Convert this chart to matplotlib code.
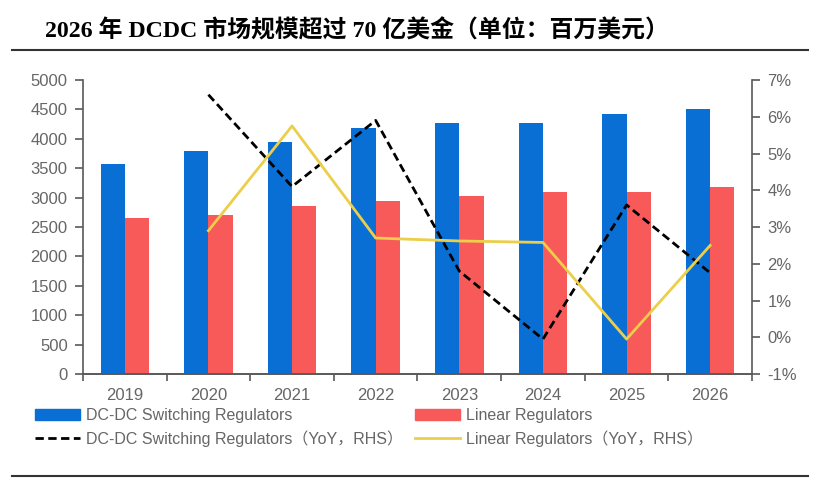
import matplotlib
matplotlib.use("Agg")
import matplotlib.pyplot as plt
import numpy as np
from matplotlib.lines import Line2D
from matplotlib.patches import Patch

plt.rcParams['font.family'] = ['Liberation Sans', 'Noto Sans CJK SC']

years = ['2019', '2020', '2021', '2022', '2023', '2024', '2025', '2026']
dcdc = [3570, 3800, 3950, 4190, 4270, 4270, 4420, 4500]
linear = [2650, 2710, 2860, 2940, 3030, 3090, 3090, 3180]
# YoY 从 2020 开始
dcdc_yoy = [6.6, 4.1, 5.9, 1.8, -0.05, 3.6, 1.75]
linear_yoy = [2.9, 5.75, 2.7, 2.62, 2.58, -0.05, 2.5]

blue = '#0a6fd4'
red = '#f85a5a'
yellow = '#ecce4a'
grey = '#595959'

fig = plt.figure(figsize=(8.33, 4.92), dpi=100)
ax = fig.add_axes([0.0996, 0.2398, 0.8032, 0.5976])
x = np.arange(len(years))
w = 0.29
ax.bar(x - w / 2, dcdc, w, color=blue, zorder=2)
ax.bar(x + w / 2, linear, w, color=red, zorder=2)
ax.set_xlim(-0.5, 7.5)
ax.set_ylim(0, 5000)
ax.set_yticks(range(0, 5001, 500))

ax2 = ax.twinx()
ax2.plot(x[1:], dcdc_yoy, color='black', ls=(0, (3, 1.6)), lw=2)
ax2.plot(x[1:], linear_yoy, color=yellow, lw=2)
ax2.set_ylim(-1, 7)
ax2.set_yticks(range(-1, 8))
ax2.set_yticklabels([f'{v}%' for v in range(-1, 8)])

for a in (ax, ax2):
    a.spines['top'].set_visible(False)
    for s in ('left', 'right', 'bottom'):
        a.spines[s].set_color(grey)
        a.spines[s].set_linewidth(1.2)
    a.tick_params(axis='y', colors=grey, labelcolor='#666666', labelsize=12,
                  length=6, width=1.2, pad=5)
ax2.spines['left'].set_visible(False)
ax.spines['right'].set_visible(False)

ax.set_xticks(x)
ax.set_xticklabels(years)
ax.set_xticks(np.arange(-0.5, 8, 1), minor=True)
ax.tick_params(axis='x', which='major', length=0, labelsize=12,
               labelcolor='#666666', pad=10)
ax.tick_params(axis='x', which='minor', length=5, width=1.2, color=grey)

fig.text(45 / 833, 1 - 31 / 492,
         '2026 年 DCDC 市场规模超过 70 亿美金（单位：百万美元）',
         family=['Liberation Serif', 'Noto Sans CJK SC'], fontweight='bold',
         fontsize=17.2, va='center', ha='left', color='black')
fig.add_artist(Line2D([12 / 833, 808 / 833], [1 - 49.5 / 492] * 2,
                      color='#333333', lw=1.5))
fig.add_artist(Line2D([12 / 833, 808 / 833], [1 - 476 / 492] * 2,
                      color='#333333', lw=1.5))

leg_kw = dict(loc='upper left', frameon=False, fontsize=11.5,
              handlelength=2.8, handletextpad=0.37, labelspacing=0.45,
              borderpad=0, borderaxespad=0, labelcolor='#666666')
fig.legend([Patch(color=blue),
            Line2D([], [], color='black', ls=(0, (3, 1.6)), lw=2)],
           ['DC-DC Switching Regulators',
            'DC-DC Switching Regulators（YoY，RHS）'],
           bbox_to_anchor=(35 / 833, 1 - 408 / 492), **leg_kw)
fig.legend([Patch(color=red), Line2D([], [], color=yellow, lw=2)],
           ['Linear Regulators', 'Linear Regulators（YoY，RHS）'],
           bbox_to_anchor=(415 / 833, 1 - 408 / 492), **leg_kw)

fig.savefig('out.png', dpi=100)
